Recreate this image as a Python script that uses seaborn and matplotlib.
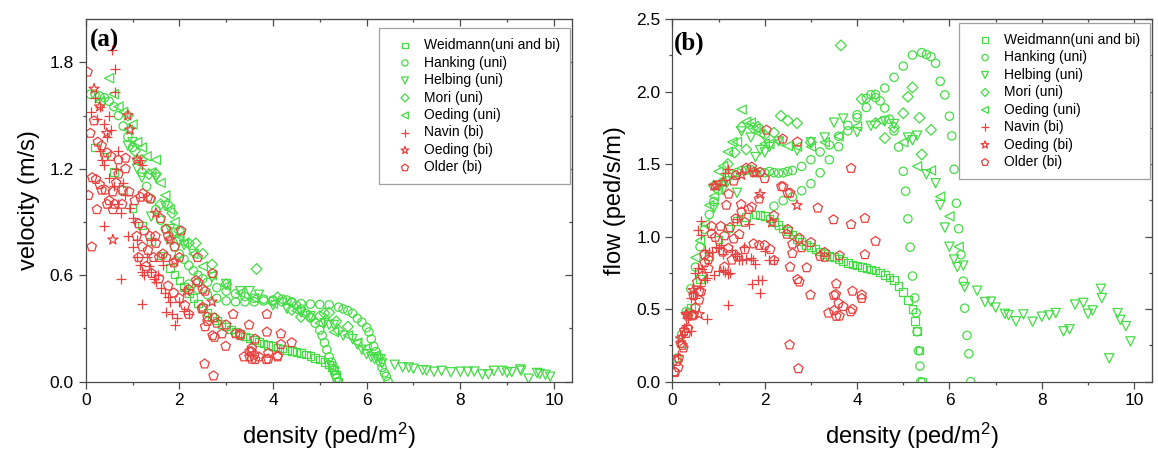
import numpy as np
import pandas as pd
import matplotlib
matplotlib.use("Agg")
import matplotlib.pyplot as plt
from matplotlib.markers import MarkerStyle
from matplotlib.ticker import MultipleLocator
import seaborn as sns

# values: density (ped/m^2) and velocity (m/s) per source
weidmann_d = [0.2, 0.4, 0.6, 0.8, 1.0, 1.2, 1.4, 1.6, 1.8, 1.9, 2.0, 2.1, 2.2, 2.3, 2.4,
              2.5, 2.6, 2.7, 2.8, 2.9, 3.0, 3.1, 3.2, 3.3, 3.4, 3.5, 3.6, 3.7, 3.8, 3.9,
              4.0, 4.1, 4.2, 4.3, 4.4, 4.5, 4.6, 4.7, 4.8, 4.9, 5.0, 5.1, 5.2, 5.25, 5.3,
              5.35, 5.4]
weidmann_v = [1.32, 1.27, 1.18, 1.08, 0.98, 0.88, 0.79, 0.71, 0.64, 0.605, 0.57, 0.535, 0.50,
              0.47, 0.44, 0.415, 0.39, 0.365, 0.345, 0.325, 0.31, 0.295, 0.28, 0.267, 0.255,
              0.245, 0.235, 0.225, 0.215, 0.207, 0.20, 0.193, 0.187, 0.18, 0.174, 0.167, 0.16,
              0.153, 0.146, 0.135, 0.124, 0.11, 0.096, 0.08, 0.066, 0.04, 0.0]

hanking_d = [0.1, 0.2, 0.3, 0.4, 0.5, 0.6, 0.7, 0.8, 0.9, 1.0, 1.1, 1.2, 1.3, 1.4, 1.5, 1.6,
             1.7, 1.8, 1.9, 2.0, 2.1, 2.2, 2.3, 2.4, 2.5, 2.6, 2.8, 3.0, 3.2, 3.4, 3.6, 3.8,
             4.0, 4.2, 4.4, 4.6, 4.8, 5.0, 5.2, 5.4, 5.5, 5.6, 5.7, 5.8, 5.9, 6.0, 6.05, 6.1,
             6.15, 6.2, 6.25, 6.3, 6.33, 6.38, 6.42, 6.46,
             2.2, 2.4, 2.6, 2.8, 3.0, 3.2, 3.4, 3.6, 3.8, 4.0, 4.2, 4.3, 4.4, 4.5, 4.6, 4.7,
             4.8, 4.9, 5.0, 5.05, 5.1, 5.15, 5.2, 5.25, 5.28, 5.3, 5.33, 5.36, 5.38]
hanking_v = [1.62, 1.62, 1.61, 1.6, 1.58, 1.55, 1.5, 1.44, 1.38, 1.32, 1.25, 1.18, 1.1, 1.03,
             0.97, 0.91, 0.86, 0.8, 0.76, 0.72, 0.69, 0.655, 0.625, 0.6, 0.58, 0.56, 0.53,
             0.51, 0.495, 0.48, 0.47, 0.465, 0.455, 0.45, 0.445, 0.44, 0.437, 0.435, 0.433,
             0.42, 0.41, 0.40, 0.385, 0.357, 0.335, 0.305, 0.28, 0.24, 0.2, 0.17, 0.14, 0.11,
             0.08, 0.05, 0.03, 0.0,
             0.55, 0.52, 0.49, 0.47, 0.455, 0.45, 0.45, 0.45, 0.455, 0.46, 0.465, 0.46, 0.45,
             0.43, 0.41, 0.385, 0.36, 0.33, 0.29, 0.26, 0.22, 0.18, 0.14, 0.11, 0.09, 0.065,
             0.04, 0.02, 0.0]

helbing_d = [0.9, 1.0, 1.1, 1.2, 1.4, 1.5, 1.7, 1.8, 1.9, 2.0, 2.1, 2.3, 2.7, 3.0, 3.3, 3.5,
             3.7, 4.0, 4.3, 4.6, 4.8, 5.1, 5.2, 5.3, 5.5, 5.7, 5.8, 5.9, 6.0, 6.1, 6.17, 6.3,
             6.33, 6.6, 6.77, 6.9, 7.0, 7.2, 7.28, 7.44, 7.6, 7.8, 8.0, 8.16, 8.3, 8.47, 8.6,
             8.72, 8.9, 9.0, 9.1, 9.28, 9.3, 9.46, 9.64, 9.7, 9.82, 9.92]
helbing_v = [1.33, 1.35, 1.2, 1.15, 0.93, 1.15, 0.99, 0.86, 0.84, 0.79, 0.77, 0.72, 0.59, 0.55,
             0.51, 0.51, 0.49, 0.43, 0.41, 0.39, 0.37, 0.33, 0.32, 0.32, 0.26, 0.24, 0.21, 0.18,
             0.155, 0.138, 0.128, 0.127, 0.103, 0.095, 0.081, 0.08, 0.073, 0.065, 0.063, 0.056,
             0.061, 0.053, 0.056, 0.056, 0.057, 0.041, 0.042, 0.061, 0.061, 0.052, 0.054,
             0.069, 0.062, 0.017, 0.049, 0.044, 0.039, 0.028]

mori_d = [0.9, 1.05, 1.2, 1.35, 1.5, 1.6, 1.75, 1.85, 2.0, 2.2, 2.35, 2.5, 2.7, 3.0, 3.65,
          4.1, 4.4, 4.6, 4.8, 5.0, 5.1, 5.2, 5.35, 5.4, 5.6]
mori_v = [1.5, 1.3, 1.25, 1.17, 1.17, 1.0, 1.0, 0.95, 0.85, 0.78, 0.78, 0.72, 0.66, 0.55, 0.635,
          0.475, 0.405, 0.365, 0.365, 0.37, 0.385, 0.39, 0.34, 0.29, 0.31]

oeding_uni_d = [0.3, 0.5, 0.6, 0.7, 0.8, 0.9, 1.0, 1.1, 1.2, 1.3, 1.4, 1.5, 1.6, 1.7, 1.8, 1.9,
                2.0, 2.1, 2.3, 2.5, 2.7, 3.0, 3.3, 3.6, 4.0, 4.5, 5.0, 5.3, 5.6, 5.8, 6.0, 6.2]
oeding_uni_v = [1.58, 1.71, 1.62, 1.55, 1.52, 1.42, 1.45, 1.35, 1.32, 1.27, 1.18, 1.25, 1.12,
                1.05, 0.97, 0.9, 0.82, 0.78, 0.72, 0.65, 0.6, 0.54, 0.5, 0.47, 0.44, 0.4, 0.33,
                0.28, 0.26, 0.22, 0.19, 0.15]

navin_d = [0.12, 0.2, 0.25, 0.3, 0.3, 0.35, 0.4, 0.4, 0.45, 0.5, 0.5, 0.55, 0.63, 0.6, 0.62,
           0.65, 0.7, 0.7, 0.75, 0.75, 0.8, 0.85, 0.9, 0.95, 1.0, 1.05, 1.1, 1.1, 1.15, 1.2,
           1.2, 1.25, 1.3, 1.35, 1.4, 1.45, 1.5, 1.55, 1.6, 1.65, 1.7, 1.75, 1.8, 1.85, 1.9,
           1.95, 2.0, 2.1, 2.2, 0.4, 1.0, 1.4, 0.56, 1.15, 1.2, 1.72]
navin_v = [1.52, 1.6, 1.48, 1.55, 1.3, 1.25, 1.45, 1.22, 1.38, 1.5, 1.15, 1.42, 1.76, 1.1, 1.63,
           1.2, 1.0, 1.3, 0.95, 0.58, 1.12, 1.05, 0.82, 0.98, 0.76, 0.9, 0.7, 0.8, 0.66, 0.62,
           0.44, 0.6, 0.7, 0.65, 0.62, 0.58, 0.56, 0.6, 0.53, 0.66, 0.5, 0.48, 0.45, 0.38, 0.32,
           0.36, 0.45, 0.4, 0.38, 0.88, 0.92, 0.8, 1.87, 1.25, 1.22, 0.39]

oeding_bi_d = [0.18, 0.3, 0.58, 0.9, 0.95, 1.1, 1.5, 1.8, 1.9, 2.15, 2.7, 0.45]
oeding_bi_v = [1.65, 1.55, 0.8, 1.5, 1.42, 1.25, 0.95, 0.8, 0.68, 0.51, 0.45, 1.4]

older_d = [0.04, 0.18, 0.10, 0.26, 0.34, 0.46, 0.54, 0.70, 0.85, 0.06, 0.24, 0.13, 0.30, 0.42,
           0.58, 0.70, 0.85, 0.93, 1.05, 1.17, 1.33, 0.62, 0.78, 0.46, 1.13, 1.25, 1.37, 1.49,
           1.76, 2.04, 1.09, 1.21, 1.33, 1.45, 1.57, 1.72, 1.88, 2.00, 2.39, 1.13, 1.29, 1.41,
           1.57, 1.76, 1.88, 2.00, 2.20, 2.36, 2.50, 2.71, 2.12, 2.20, 2.48, 2.60, 2.71, 2.91,
           3.15, 2.99, 3.30, 3.49, 3.62, 3.87, 3.87, 4.17, 4.40, 4.17, 3.38, 3.54, 3.70, 3.86,
           4.10, 3.62, 2.54, 2.73,
           1.6, 1.72, 1.9, 1.38, 1.22, 1.5, 1.65, 2.4, 2.55, 2.5, 2.6, 2.55, 2.75, 2.8, 2.75,
           3.0, 3.3, 3.2, 3.55, 3.5, 3.6, 3.5, 3.55, 3.9, 3.9, 4.1,
           0.14, 0.22, 0.34, 0.5, 0.58, 0.65, 0.78]
older_v = [1.745, 1.47, 1.40, 1.35, 1.33, 1.29, 1.27, 1.25, 1.26, 1.05, 0.97, 0.76, 1.11, 1.08,
           1.07, 1.17, 1.20, 1.07, 1.02, 1.04, 1.04, 1.00, 1.00, 1.00, 0.89, 0.85, 0.82, 0.82,
           0.82, 0.85, 0.82, 0.76, 0.74, 0.70, 0.70, 0.70, 0.67, 0.70, 0.70, 0.70, 0.65, 0.61,
           0.58, 0.54, 0.50, 0.47, 0.52, 0.57, 0.52, 0.61, 0.43, 0.38, 0.41, 0.34, 0.26, 0.27,
           0.38, 0.20, 0.26, 0.32, 0.24, 0.38, 0.28, 0.27, 0.22, 0.21, 0.14, 0.17, 0.14, 0.125,
           0.14, 0.125, 0.10, 0.033,
           0.92, 0.86, 0.76, 1.03, 1.06, 0.78, 0.72, 0.56, 0.51, 0.42, 0.365, 0.31, 0.36, 0.33,
           0.25, 0.32, 0.27, 0.27, 0.19, 0.17, 0.15, 0.14, 0.127, 0.16, 0.128, 0.146,
           1.15, 1.14, 1.08, 1.02, 0.97, 1.12, 1.08]

GREEN = "#45dc45"
RED = "#e8413f"
sources = [
    ("Weidmann(uni and bi)", weidmann_d, weidmann_v, "s", GREEN, 30),
    ("Hanking (uni)", hanking_d, hanking_v, "o", GREEN, 36),
    ("Helbing (uni)", helbing_d, helbing_v, "v", GREEN, 44),
    ("Mori (uni)", mori_d, mori_v, "D", GREEN, 30),
    ("Oeding (uni)", oeding_uni_d, oeding_uni_v, "<", GREEN, 44),
    ("Navin (bi)", navin_d, navin_v, "+", RED, 50),
    ("Oeding (bi)", oeding_bi_d, oeding_bi_v, "*", RED, 60),
    ("Older (bi)", older_d, older_v, "p", RED, 50),
]

frames = []
for name, d, v, *_ in sources:
    frames.append(pd.DataFrame({"source": name, "density": d, "velocity": v}))
df = pd.concat(frames, ignore_index=True)
# flow is density times speed
df["flow"] = df["density"] * df["velocity"]

sns.set_style("ticks")
plt.rcParams["font.family"] = ["Liberation Sans", "DejaVu Sans"]
plt.rcParams["text.color"] = "black"
plt.rcParams["axes.labelcolor"] = "black"
plt.rcParams["mathtext.fontset"] = "custom"
plt.rcParams["mathtext.rm"] = "Liberation Sans"
plt.rcParams["mathtext.it"] = "Liberation Sans:italic"

fig = plt.figure(figsize=(11.58, 4.54), dpi=100)
ax1 = fig.add_axes([0.0740, 0.1593, 0.4197, 0.7989])
ax2 = fig.add_axes([0.5806, 0.1593, 0.4140, 0.7989])

SPINE = "#4a4a4a"
panels = [
    (ax1, "velocity", "velocity (m/s)", 2.044, 0.6, 0.3, "(a)", 0.008, 0.942, 0.974),
    (ax2, "flow", "flow (ped/s/m)", 2.5, 0.5, 0.25, "(b)", 0.004, 0.934, 0.989),
]

for ax, ycol, ylabel, ytop, ymaj, ymin, tag, tx, ty, leg_y in panels:
    for name, d, v, mk, col, size in sources:
        sub = df[df["source"] == name]
        marker = mk if mk == "+" else MarkerStyle(mk, fillstyle="none")
        sns.scatterplot(data=sub, x="density", y=ycol, ax=ax, marker=marker,
                        color=col, s=size, linewidth=0.9, edgecolor=None,
                        label=name, legend=False)

    ax.set_xlim(0, 10.38)
    ax.set_ylim(0, ytop)
    ax.xaxis.set_major_locator(MultipleLocator(2))
    ax.xaxis.set_minor_locator(MultipleLocator(1))
    ax.yaxis.set_major_locator(MultipleLocator(ymaj))
    ax.yaxis.set_minor_locator(MultipleLocator(ymin))
    ax.yaxis.set_major_formatter(plt.FuncFormatter(lambda val, pos: f"{val:.1f}"))
    ax.tick_params(which="both", direction="out", colors=SPINE, labelcolor="black",
                   labelsize=12.5, width=0.9)
    ax.tick_params(which="major", length=5)
    ax.tick_params(which="minor", length=2.5)
    for sp in ax.spines.values():
        sp.set_color(SPINE)
        sp.set_linewidth(0.9)
        sp.set_visible(True)

    # mirrored ticks on top and right, pointing inwards
    top = ax.secondary_xaxis("top")
    top.xaxis.set_major_locator(MultipleLocator(2))
    top.xaxis.set_minor_locator(MultipleLocator(1))
    top.tick_params(which="both", direction="in", labeltop=False, colors=SPINE, width=0.9)
    top.tick_params(which="major", length=5)
    top.tick_params(which="minor", length=2.5)
    top.spines["top"].set_color(SPINE)
    right = ax.secondary_yaxis("right")
    right.yaxis.set_major_locator(MultipleLocator(ymaj))
    right.yaxis.set_minor_locator(MultipleLocator(ymin))
    right.tick_params(which="both", direction="in", labelright=False, colors=SPINE, width=0.9)
    right.tick_params(which="major", length=5)
    right.tick_params(which="minor", length=2.5)
    right.spines["right"].set_color(SPINE)

    ax.set_xlabel("density (ped/m$^2$)", fontsize=17, labelpad=9)
    ax.set_ylabel(ylabel, fontsize=17, labelpad=7)

    ax.text(tx, ty, tag, transform=ax.transAxes, ha="left", va="center",
            fontsize=18, fontweight="bold", family="Liberation Serif")

    leg = ax.legend(loc="upper right", bbox_to_anchor=(0.997, leg_y), borderaxespad=0,
                    fontsize=10, frameon=True, fancybox=False, framealpha=1,
                    edgecolor="#a0a0a0", handlelength=2.3, handletextpad=0.25,
                    borderpad=0.7, labelspacing=0.25, markerscale=0.75)
    leg.get_frame().set_linewidth(0.9)

fig.savefig("out.png", dpi=100)
